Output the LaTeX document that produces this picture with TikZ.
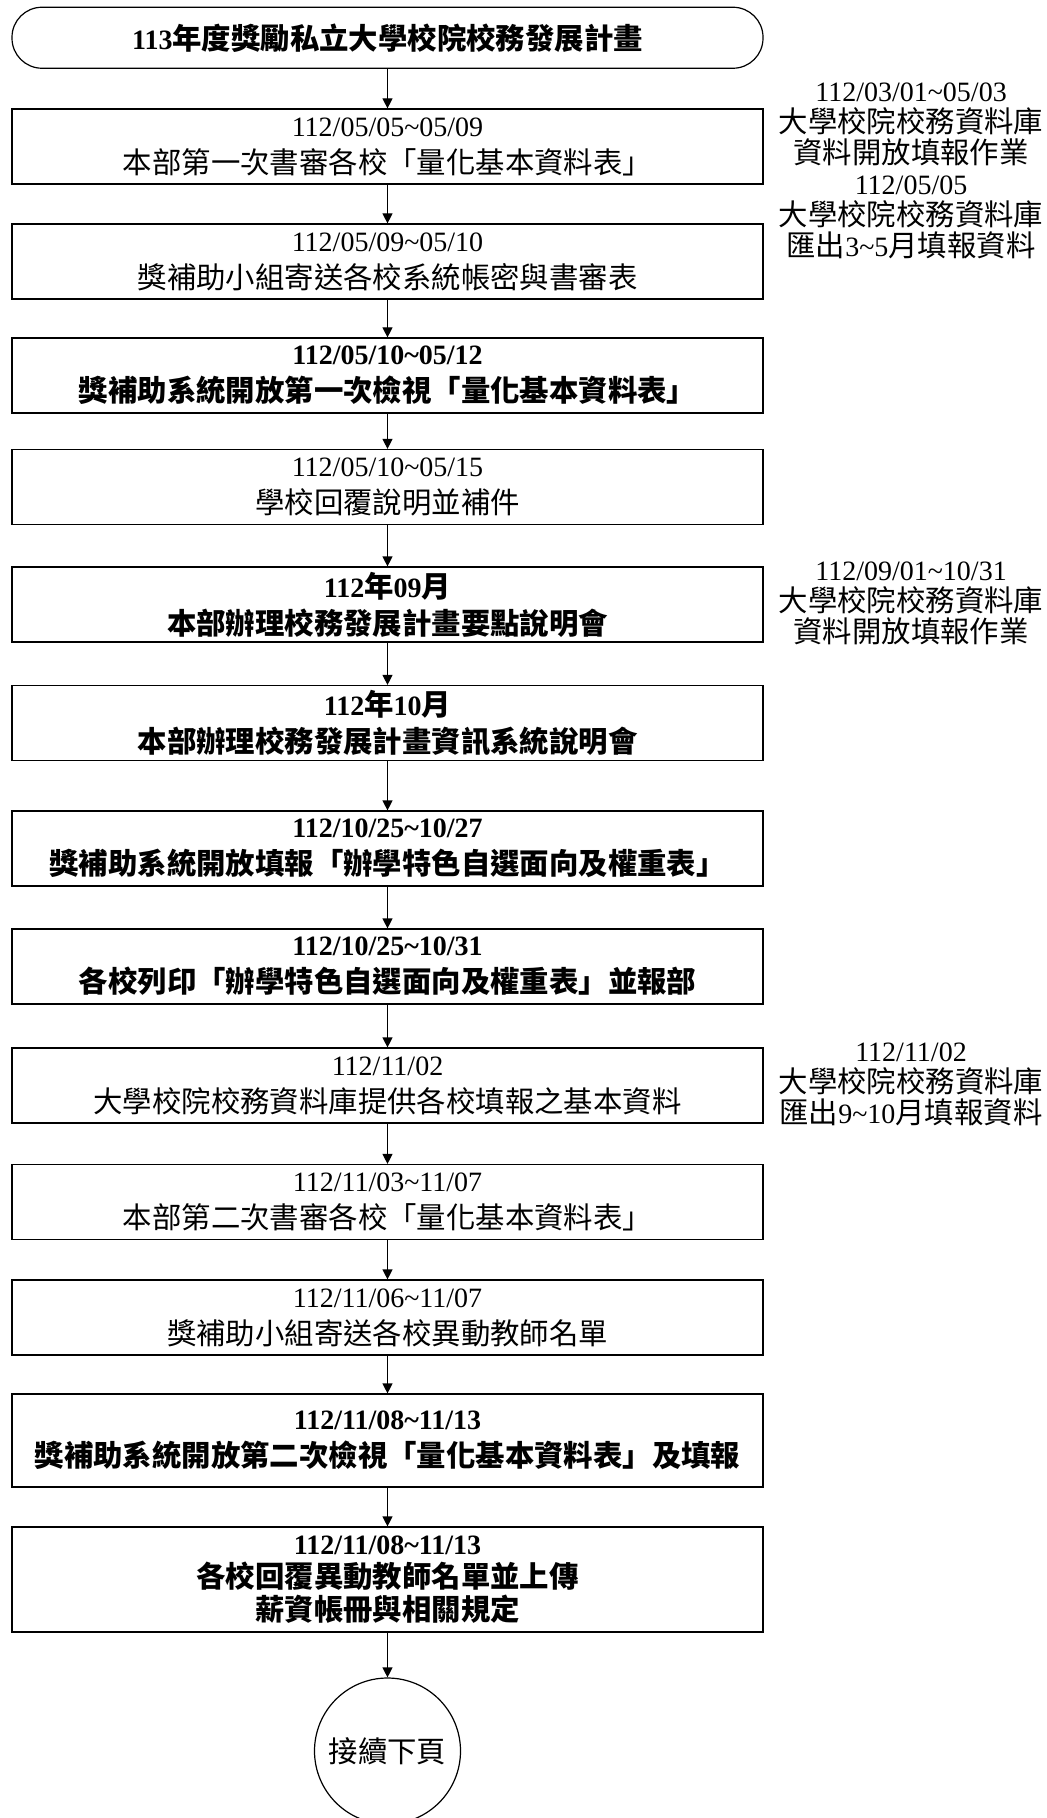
\documentclass[tikz,border=0pt]{standalone}
\usepackage{fontspec}
\setmainfont{Liberation Serif}
\newfontfamily\cjk[Scale=1.05]{Noto Sans CJK TC}
\newcommand{\zh}[1]{{\cjk #1}}
\usetikzlibrary{arrows.meta}

\tikzset{
  flowbox/.style={draw, line width=0.6pt, rectangle, minimum width=375.5pt,
    minimum height=37.5pt, inner sep=0pt, align=center,
    font=\fontsize{14}{18.5}\selectfont},
  boldbox/.style={flowbox, font=\fontsize{14}{18.5}\selectfont\bfseries},
  startbox/.style={boldbox, minimum height=30.5pt, rounded corners=15pt},
  notetext/.style={inner sep=0pt, align=center, font=\fontsize{14}{15.5}\selectfont},
  flowarrow/.style={line width=0.6pt, -{Triangle[length=5pt,width=5pt]}}
}

\begin{document}
\begin{tikzpicture}[x=0.5pt,y=-0.5pt]

\def\MIDX{387.5}
\def\NOTEX{911}
	\useasboundingbox (0,0) rectangle (1046,1818);

	% main column
	\node[startbox] (start) at (\MIDX,37.75) {113\zh{年度獎勵私立大學校院校務發展計畫}};
	\node[flowbox] (p1) at (\MIDX,146.5) {112/05/05\textasciitilde 05/09\\ \zh{本部第一次書審各校「量化基本資料表」}};
	\node[flowbox] (p2) at (\MIDX,261.5) {112/05/09\textasciitilde 05/10\\ \zh{獎補助小組寄送各校系統帳密與書審表}};
	\node[boldbox] (p3) at (\MIDX,375.5) {112/05/10\textasciitilde 05/12\\ \zh{獎補助系統開放第一次檢視「量化基本資料表」}};
	\node[flowbox] (p4) at (\MIDX,487) {112/05/10\textasciitilde 05/15\\ \zh{學校回覆說明並補件}};
	\node[boldbox] (p5) at (\MIDX,604.5) {112\zh{年}09\zh{月}\\ \zh{本部辦理校務發展計畫要點說明會}};
	\node[boldbox] (p6) at (\MIDX,723) {112\zh{年}10\zh{月}\\ \zh{本部辦理校務發展計畫資訊系統說明會}};
	\node[boldbox] (p7) at (\MIDX,848.5) {112/10/25\textasciitilde 10/27\\ \zh{獎補助系統開放填報「辦學特色自選面向及權重表」}};
	\node[boldbox] (p8) at (\MIDX,966.5) {112/10/25\textasciitilde 10/31\\ \zh{各校列印「辦學特色自選面向及權重表」並報部}};
	\node[flowbox] (p9) at (\MIDX,1085.5) {112/11/02\\ \zh{大學校院校務資料庫提供各校填報之基本資料}};
	\node[flowbox] (p10) at (\MIDX,1202) {112/11/03\textasciitilde 11/07\\ \zh{本部第二次書審各校「量化基本資料表」}};
	\node[flowbox] (p11) at (\MIDX,1317.5) {112/11/06\textasciitilde 11/07\\ \zh{獎補助小組寄送各校異動教師名單}};
	\node[boldbox, minimum height=46.5pt] (p12) at (\MIDX,1440.5) {112/11/08\textasciitilde 11/13\\ \zh{獎補助系統開放第二次檢視「量化基本資料表」及填報}};
	\node[boldbox, minimum height=52.5pt, font=\fontsize{14}{16.5}\selectfont\bfseries] (p13) at (\MIDX,1579.5) {112/11/08\textasciitilde 11/13\\ \zh{各校回覆異動教師名單並上傳}\\ \zh{薪資帳冊與相關規定}};
	\node[draw, line width=0.6pt, circle, minimum size=73pt, inner sep=0pt,
	      font=\fontsize{14}{17}\selectfont] (cont) at (\MIDX,1751) {\zh{接續下頁}};

	% arrows
	\draw[flowarrow] (start) -- (p1);
	\draw[flowarrow] (p1) -- (p2);
	\draw[flowarrow] (p2) -- (p3);
	\draw[flowarrow] (p3) -- (p4);
	\draw[flowarrow] (p4) -- (p5);
	\draw[flowarrow] (p5) -- (p6);
	\draw[flowarrow] (p6) -- (p7);
	\draw[flowarrow] (p7) -- (p8);
	\draw[flowarrow] (p8) -- (p9);
	\draw[flowarrow] (p9) -- (p10);
	\draw[flowarrow] (p10) -- (p11);
	\draw[flowarrow] (p11) -- (p12);
	\draw[flowarrow] (p12) -- (p13);
	\draw[flowarrow] (p13) -- (cont);

	% database notes
	\node[notetext] (db1) at (\NOTEX,171) {112/03/01\textasciitilde 05/03\\ \zh{大學校院校務資料庫}\\ \zh{資料開放填報作業}\\
	  112/05/05\\ \zh{大學校院校務資料庫}\\ \zh{匯出}3\textasciitilde 5\zh{月填報資料}};
	\node[notetext] (db3) at (\NOTEX,603) {112/09/01\textasciitilde 10/31\\ \zh{大學校院校務資料庫}\\ \zh{資料開放填報作業}};
	\node[notetext] (db4) at (\NOTEX,1084) {112/11/02\\ \zh{大學校院校務資料庫}\\ \zh{匯出}9\textasciitilde 10\zh{月填報資料}};

\end{tikzpicture}
\end{document}
